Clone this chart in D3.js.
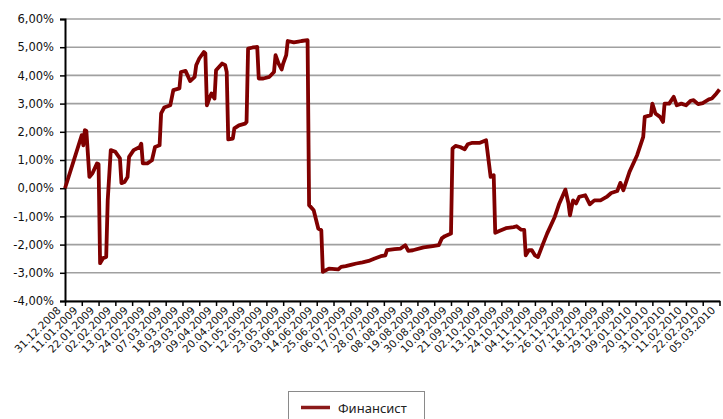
<!DOCTYPE html>
<html><head><meta charset="utf-8">
<script src="https://cdn.jsdelivr.net/npm/d3@7"></script>
<style>
html,body{margin:0;padding:0;background:#fff;}
svg{display:block;}
</style></head>
<body>
<svg id="chart" width="723" height="419"></svg>
<script>
const seriesName = "Финансист";
const tickLabels = ["31.12.2008","11.01.2009","22.01.2009","02.02.2009","13.02.2009","24.02.2009","07.03.2009","18.03.2009","29.03.2009","09.04.2009","20.04.2009","01.05.2009","12.05.2009","23.05.2009","03.06.2009","14.06.2009","25.06.2009","06.07.2009","17.07.2009","28.07.2009","08.08.2009","19.08.2009","30.08.2009","10.09.2009","21.09.2009","02.10.2009","13.10.2009","24.10.2009","04.11.2009","15.11.2009","26.11.2009","07.12.2009","18.12.2009","29.12.2009","09.01.2010","20.01.2010","31.01.2010","11.02.2010","22.02.2010","05.03.2010"];
const yTicks = [6,5,4,3,2,1,0,-1,-2,-3,-4];
const dates = ["2008-12-31","2009-01-11","2009-01-12","2009-01-13","2009-01-14","2009-01-16","2009-01-18","2009-01-21","2009-01-22","2009-01-23","2009-01-25","2009-01-27","2009-01-28","2009-01-30","2009-02-02","2009-02-05","2009-02-06","2009-02-08","2009-02-10","2009-02-11","2009-02-14","2009-02-18","2009-02-19","2009-02-20","2009-02-23","2009-02-26","2009-02-28","2009-03-03","2009-03-04","2009-03-06","2009-03-10","2009-03-12","2009-03-16","2009-03-17","2009-03-20","2009-03-23","2009-03-26","2009-03-27","2009-03-29","2009-04-01","2009-04-02","2009-04-03","2009-04-05","2009-04-06","2009-04-08","2009-04-09","2009-04-13","2009-04-15","2009-04-16","2009-04-17","2009-04-20","2009-04-21","2009-04-24","2009-04-28","2009-04-29","2009-04-30","2009-05-03","2009-05-06","2009-05-07","2009-05-10","2009-05-14","2009-05-17","2009-05-18","2009-05-20","2009-05-22","2009-05-23","2009-05-25","2009-05-26","2009-05-30","2009-06-02","2009-06-04","2009-06-08","2009-06-09","2009-06-12","2009-06-15","2009-06-17","2009-06-18","2009-06-22","2009-06-28","2009-06-30","2009-07-03","2009-07-07","2009-07-10","2009-07-14","2009-07-18","2009-07-22","2009-07-26","2009-07-29","2009-07-30","2009-08-04","2009-08-08","2009-08-11","2009-08-13","2009-08-16","2009-08-23","2009-08-29","2009-09-02","2009-09-04","2009-09-06","2009-09-10","2009-09-11","2009-09-13","2009-09-16","2009-09-19","2009-09-21","2009-09-24","2009-09-29","2009-10-03","2009-10-06","2009-10-08","2009-10-09","2009-10-12","2009-10-16","2009-10-21","2009-10-23","2009-10-26","2009-10-28","2009-10-29","2009-10-31","2009-11-02","2009-11-04","2009-11-06","2009-11-09","2009-11-12","2009-11-17","2009-11-20","2009-11-24","2009-11-26","2009-11-27","2009-11-29","2009-12-01","2009-12-03","2009-12-07","2009-12-10","2009-12-13","2009-12-17","2009-12-21","2009-12-24","2009-12-28","2009-12-30","2010-01-01","2010-01-05","2010-01-10","2010-01-14","2010-01-15","2010-01-19","2010-01-20","2010-01-22","2010-01-25","2010-01-27","2010-01-28","2010-01-31","2010-02-03","2010-02-05","2010-02-08","2010-02-11","2010-02-14","2010-02-16","2010-02-19","2010-02-22","2010-02-26","2010-02-28","2010-03-03","2010-03-05"];
const values = [0.00,1.88,1.52,2.06,2.03,0.40,0.53,0.88,0.85,-2.66,-2.48,-2.44,-0.43,1.35,1.29,1.06,0.18,0.22,0.40,1.11,1.35,1.46,1.58,0.88,0.88,0.99,1.46,1.52,2.65,2.86,2.94,3.48,3.54,4.12,4.16,3.80,3.95,4.36,4.60,4.83,4.78,2.94,3.24,3.36,3.18,4.18,4.42,4.36,4.12,1.73,1.76,2.12,2.23,2.29,2.35,4.95,4.99,5.01,3.89,3.89,3.95,4.12,4.72,4.42,4.21,4.42,4.72,5.22,5.17,5.20,5.22,5.25,-0.60,-0.78,-1.43,-1.49,-2.97,-2.85,-2.88,-2.79,-2.76,-2.71,-2.67,-2.63,-2.58,-2.49,-2.41,-2.38,-2.20,-2.16,-2.14,-2.02,-2.22,-2.20,-2.10,-2.05,-2.02,-1.78,-1.70,-1.61,1.41,1.50,1.46,1.38,1.56,1.61,1.61,1.70,0.40,0.46,-1.58,-1.51,-1.42,-1.38,-1.35,-1.47,-1.48,-2.38,-2.20,-2.20,-2.38,-2.44,-2.02,-1.61,-1.02,-0.54,-0.05,-0.54,-0.96,-0.43,-0.54,-0.31,-0.25,-0.57,-0.43,-0.43,-0.31,-0.17,-0.10,0.19,-0.07,0.58,1.17,1.82,2.53,2.59,3.00,2.65,2.53,2.35,3.00,3.00,3.24,2.94,3.00,2.94,3.10,3.12,2.98,3.02,3.15,3.18,3.36,3.50];

const parseTick = d3.timeParse("%d.%m.%Y");
const parseDate = d3.timeParse("%Y-%m-%d");
const tickDates = tickLabels.map(parseTick);
const data = dates.map((d,i)=>({date: parseDate(d), value: values[i]}));

const svg = d3.select("#chart");
const mLeft = 65, mRight = 719.5, mTop = 19, mBottom = 301;

const x = d3.scaleTime().domain([tickDates[0], tickDates[tickDates.length-1]]).range([mLeft, mRight]);
const y = d3.scaleLinear().domain([-4, 6]).range([mBottom, mTop]);

// gridlines
svg.append("g").selectAll("line").data(yTicks).join("line")
  .attr("x1", mLeft).attr("x2", mRight+1)
  .attr("y1", d=>y(d)).attr("y2", d=>y(d))
  .attr("stroke", "#a0a0a0").attr("stroke-width", 1.6);

// y axis
const yAxis = d3.axisLeft(y).tickValues(yTicks).tickSize(5).tickPadding(6)
  .tickFormat(d => d3.format(".2f")(d).replace(".", ",").replace("−", "-") + "%");
const gy = svg.append("g").attr("transform", `translate(${mLeft},0)`).call(yAxis);
gy.select(".domain").attr("stroke", "#000").attr("stroke-width", 2);
gy.selectAll(".tick line").attr("stroke", "#000").attr("stroke-width", 1.5);
gy.selectAll("text").attr("font-family", "DejaVu Sans, Verdana, sans-serif").attr("font-size", 11.5).attr("fill", "#111");

// x axis
const xAxis = d3.axisBottom(x).tickValues(tickDates).tickSize(5).tickSizeOuter(0)
  .tickFormat((d,i)=>tickLabels[i]);
const gx = svg.append("g").attr("transform", `translate(0,${mBottom})`).call(xAxis);
gx.select(".domain").attr("stroke", "#000").attr("stroke-width", 2);
gx.selectAll(".tick line").attr("stroke", "#000").attr("stroke-width", 1.5);
gx.selectAll("text")
  .attr("font-family", "DejaVu Sans, Verdana, sans-serif").attr("font-size", 10.5).attr("fill", "#111")
  .attr("text-anchor", "end").attr("dx", 0).attr("dy", 0).attr("y", 0)
  .attr("transform", "translate(-4,10) rotate(-45)");

// line
const line = d3.line().x(d=>x(d.date)).y(d=>y(d.value));
svg.append("path").datum(data).attr("d", line)
  .attr("fill", "none").attr("stroke", "#800000").attr("stroke-width", 3.8)
  .attr("stroke-linejoin", "round");

// legend
const lg = svg.append("g");
lg.append("rect").attr("x", 288.5).attr("y", 391.5).attr("width", 136).attr("height", 40)
  .attr("fill", "#fff").attr("stroke", "#8a8a8a").attr("stroke-width", 1);
lg.append("line").attr("x1", 301).attr("x2", 330).attr("y1", 407.5).attr("y2", 407.5)
  .attr("stroke", "#8b1a1a").attr("stroke-width", 3.5);
lg.append("text").attr("x", 338).attr("y", 412.5).text(seriesName)
  .attr("font-family", "Noto Sans, sans-serif").attr("font-size", 13).attr("fill", "#222");
</script>
</body></html>
